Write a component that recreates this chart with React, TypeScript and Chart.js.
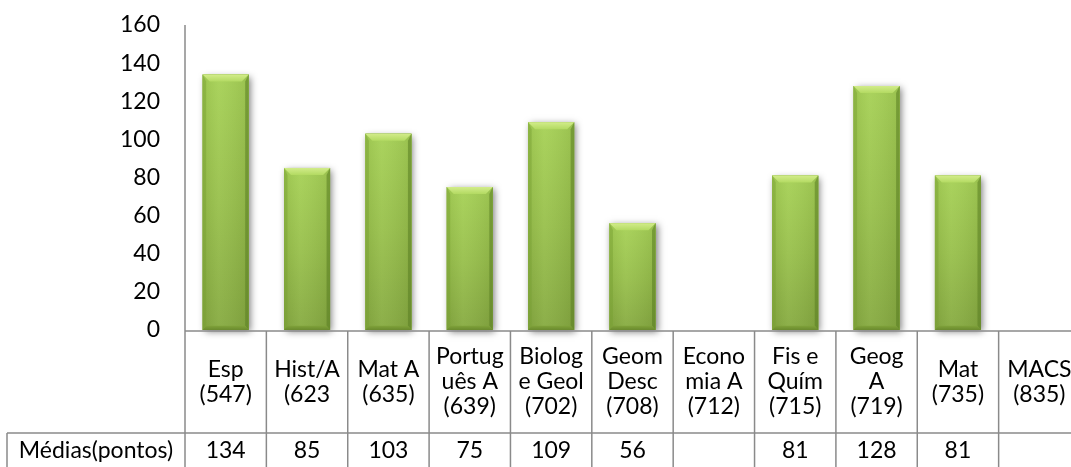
import { useEffect, useRef } from "react";
import { Chart, registerables } from "chart.js";

Chart.register(...registerables);

// ---- data ----
const categoryLines: string[][] = [
  ["Esp", "(547)"],
  ["Hist/A", "(623"],
  ["Mat A", "(635)"],
  ["Portug", "uês A", "(639)"],
  ["Biolog", "e Geol", "(702)"],
  ["Geom", "Desc", "(708)"],
  ["Econo", "mia A", "(712)"],
  ["Fis e", "Quím", "(715)"],
  ["Geog", "A", "(719)"],
  ["Mat", "(735)"],
  ["MACS", "(835)"],
];
const seriesName = "Médias(pontos)";
const seriesValues: (number | null)[] = [134, 85, 103, 75, 109, 56, null, 81, 128, 81, null];
const yMin = 0;
const yMax = 160;
const yStep = 20;

// ---- style ----
const FONT = "Lato, 'Open Sans', sans-serif";
const FONT_SIZE = 23;
const LINE_COLOR = "#8a8a8a";
const TEXT_COLOR = "#000000";
const HEADER_ROW_H = 102;
const HEADER_LINE_H = 25;
const ROW_LABEL_LEFT = 7;

const shadowPlugin = {
  id: "barShadow",
  beforeDatasetsDraw(chart: any) {
    const ctx = chart.ctx as CanvasRenderingContext2D;
    const meta = chart.getDatasetMeta(0);
    ctx.save();
    ctx.shadowColor = "rgba(0,0,0,0.5)";
    ctx.shadowBlur = 7;
    ctx.shadowOffsetX = 2;
    ctx.shadowOffsetY = 2;
    ctx.fillStyle = "#7d9f3a";
    meta.data.forEach((el: any, i: number) => {
      if (seriesValues[i] == null) return;
      const { x, y, base, width } = el.getProps(["x", "y", "base", "width"], true);
      ctx.fillRect(x - width / 2, y, width, base - y);
    });
    ctx.restore();
  },
  afterDatasetsDraw(chart: any) {
    const ctx = chart.ctx as CanvasRenderingContext2D;
    const meta = chart.getDatasetMeta(0);
    meta.data.forEach((el: any, i: number) => {
      if (seriesValues[i] == null) return;
      const { x, y, base, width } = el.getProps(["x", "y", "base", "width"], true);
      const x0 = x - width / 2;
      const x1 = x + width / 2;
      const y0 = y;
      const y1 = base;
      const b = 7;
      ctx.save();
      const g = ctx.createLinearGradient(0, y0, 0, y1);
      g.addColorStop(0, "#a6d155");
      g.addColorStop(0.5, "#98c04b");
      g.addColorStop(1, "#86aa40");
      ctx.fillStyle = g;
      ctx.fillRect(x0, y0, width, y1 - y0);
      const h = ctx.createLinearGradient(x0, 0, x1, 0);
      h.addColorStop(0, "rgba(0,0,0,0.06)");
      h.addColorStop(0.35, "rgba(255,255,255,0.05)");
      h.addColorStop(1, "rgba(0,0,0,0.08)");
      ctx.fillStyle = h;
      ctx.fillRect(x0, y0, width, y1 - y0);
      const tg = ctx.createLinearGradient(0, y0, 0, y0 + b);
      tg.addColorStop(0, "#d2ec8a");
      tg.addColorStop(1, "#b3da62");
      ctx.fillStyle = tg;
      ctx.beginPath();
      ctx.moveTo(x0, y0);
      ctx.lineTo(x1, y0);
      ctx.lineTo(x1 - b, y0 + b);
      ctx.lineTo(x0 + b, y0 + b);
      ctx.closePath();
      ctx.fill();
      ctx.fillStyle = "rgba(120,160,50,0.45)";
      ctx.beginPath();
      ctx.moveTo(x0, y0);
      ctx.lineTo(x0 + b * 0.5, y0 + b);
      ctx.lineTo(x0 + b * 0.5, y1 - b * 0.6);
      ctx.lineTo(x0, y1);
      ctx.closePath();
      ctx.fill();
      ctx.fillStyle = "rgba(90,125,35,0.55)";
      ctx.beginPath();
      ctx.moveTo(x1, y0);
      ctx.lineTo(x1 - b * 0.5, y0 + b);
      ctx.lineTo(x1 - b * 0.5, y1 - b * 0.6);
      ctx.lineTo(x1, y1);
      ctx.closePath();
      ctx.fill();
      const bg = ctx.createLinearGradient(0, y1 - b * 0.6, 0, y1);
      bg.addColorStop(0, "#7fa23a");
      bg.addColorStop(1, "#6a8a2e");
      ctx.fillStyle = bg;
      ctx.beginPath();
      ctx.moveTo(x0, y1);
      ctx.lineTo(x1, y1);
      ctx.lineTo(x1 - b * 0.5, y1 - b * 0.6);
      ctx.lineTo(x0 + b * 0.5, y1 - b * 0.6);
      ctx.closePath();
      ctx.fill();
      ctx.restore();
    });
  },
};

const tablePlugin = {
  id: "dataTable",
  afterDraw(chart: any) {
    const ctx = chart.ctx as CanvasRenderingContext2D;
    const xs = chart.scales.x;
    const area = chart.chartArea;
    const n = categoryLines.length;
    const top = area.bottom + 1;
    const row1Bottom = top + HEADER_ROW_H;
    const bottom = chart.height;
    const right = xs.getPixelForValue(n - 0.5);
    const line = (ax: number, ay: number, bx: number, by: number) => {
      ctx.beginPath();
      ctx.moveTo(ax, ay);
      ctx.lineTo(bx, by);
      ctx.stroke();
    };
    ctx.save();
    ctx.strokeStyle = LINE_COLOR;
    ctx.lineWidth = 1.5;
    line(area.left, top, right, top);
    line(ROW_LABEL_LEFT, row1Bottom, right, row1Bottom);
    line(ROW_LABEL_LEFT, row1Bottom, ROW_LABEL_LEFT, bottom);
    for (let i = 0; i <= n; i++) {
      const x = xs.getPixelForValue(i - 0.5);
      line(x, i === 0 ? area.top : top, x, bottom);
    }
    ctx.fillStyle = TEXT_COLOR;
    ctx.font = `${FONT_SIZE}px ${FONT}`;
    ctx.textAlign = "center";
    ctx.textBaseline = "middle";
    const midY = (top + row1Bottom) / 2;
    categoryLines.forEach((lines, i) => {
      const cx = xs.getPixelForValue(i);
      const startY = midY - ((lines.length - 1) * HEADER_LINE_H) / 2;
      lines.forEach((t, j) => ctx.fillText(t, cx, startY + j * HEADER_LINE_H));
      const v = seriesValues[i];
      if (v != null) ctx.fillText(String(v), cx, row1Bottom + 18);
    });
    ctx.fillText(seriesName, (ROW_LABEL_LEFT + area.left) / 2, row1Bottom + 18);
    ctx.restore();
  },
};

export default function App() {
  const ref = useRef<HTMLCanvasElement | null>(null);
  useEffect(() => {
    if (!ref.current) return;
    const chart = new Chart(ref.current, {
      type: "bar",
      data: {
        labels: categoryLines.map((l) => l.join(" ")),
        datasets: [
          {
            label: seriesName,
            data: seriesValues,
            backgroundColor: "#98c04b",
            categoryPercentage: 1,
            barPercentage: 0.566,
          },
        ],
      },
      options: {
        animation: false,
        responsive: false,
        devicePixelRatio: 1,
        layout: { padding: { top: 25, right: 10, bottom: 137, left: 0 } },
        plugins: { legend: { display: false }, tooltip: { enabled: false } },
        scales: {
          x: { display: false },
          y: {
            min: yMin,
            max: yMax,
            ticks: {
              stepSize: yStep,
              padding: 25,
              color: TEXT_COLOR,
              font: { family: FONT, size: FONT_SIZE },
            },
            grid: { display: false, drawTicks: false },
            border: { display: false },
            afterFit: (s: any) => {
              s.width = 185;
              s.paddingTop = 0;
              s.paddingBottom = 0;
            },
          },
        },
      },
      plugins: [shadowPlugin, tablePlugin],
    });
    return () => chart.destroy();
  }, []);
  return (
    <div style={{ position: "fixed", left: 0, top: 0, width: 1071, height: 467, overflow: "hidden", background: "#fff" }}>
      <canvas ref={ref} width={1090} height={467} style={{ display: "block" }} />
    </div>
  );
}
